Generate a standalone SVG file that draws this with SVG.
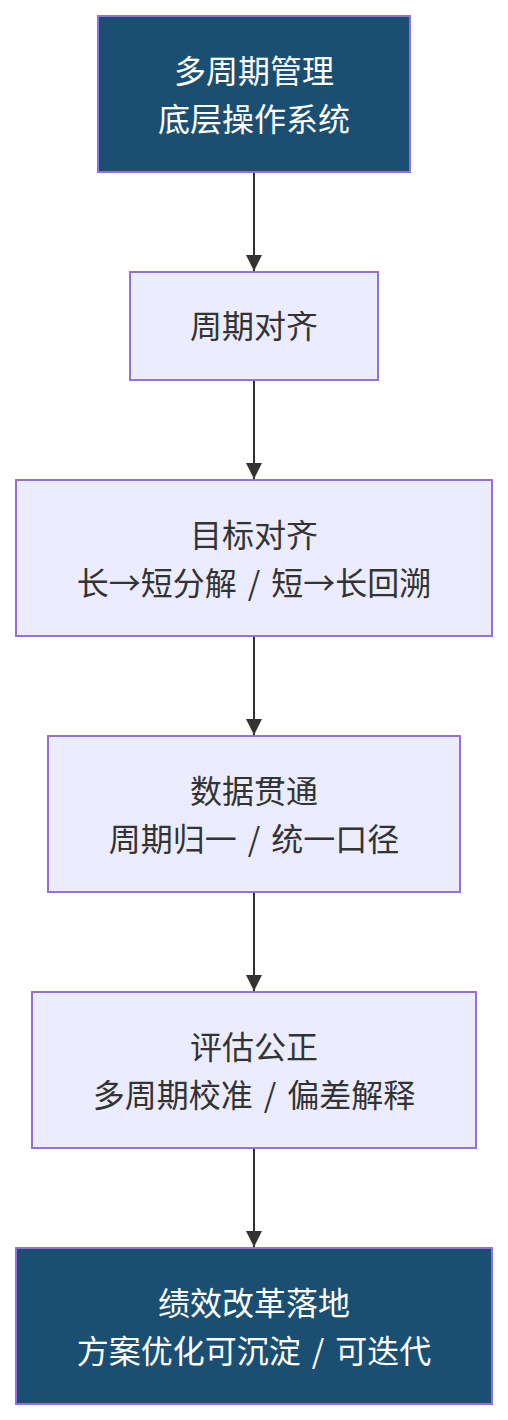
<svg xmlns="http://www.w3.org/2000/svg" width="508" height="1420" viewBox="0 0 508 1420">
<style>
.box{fill:#ececff;stroke:#9370db;stroke-width:2}
.dark{fill:#1b4f72;stroke:#9370db;stroke-width:2}
.t{font-family:"Noto Sans CJK SC","Noto Sans",sans-serif;font-size:32px;text-anchor:middle;fill:#333}
.tw{fill:#fff}
.edge{stroke:#333;stroke-width:2;fill:none}
</style>
<defs>
<marker id="arr" viewBox="0 0 16 16" refX="16" refY="8" markerWidth="16" markerHeight="16" markerUnits="userSpaceOnUse" orient="auto">
<path d="M0,0 L16,8 L0,16 z" fill="#333"/>
</marker>
</defs>
<rect width="508" height="1420" fill="#fff"/>
<g id="edges">
<line class="edge" x1="254" y1="172" x2="254" y2="271" marker-end="url(#arr)"/>
<line class="edge" x1="254" y1="380" x2="254" y2="479" marker-end="url(#arr)"/>
<line class="edge" x1="254" y1="636" x2="254" y2="735" marker-end="url(#arr)"/>
<line class="edge" x1="254" y1="892" x2="254" y2="991" marker-end="url(#arr)"/>
<line class="edge" x1="254" y1="1148" x2="254" y2="1247" marker-end="url(#arr)"/>
</g>
<g id="n1">
<rect class="dark" x="98" y="16" width="312" height="156"/>
<text class="t tw" x="254" y="83">多周期管理</text>
<text class="t tw" x="254" y="131">底层操作系统</text>
</g>
<g id="n2">
<rect class="box" x="130" y="272" width="248" height="108"/>
<text class="t" x="254" y="338">周期对齐</text>
</g>
<g id="n3">
<rect class="box" x="16" y="480" width="476" height="156"/>
<text class="t" x="254" y="547">目标对齐</text>
<text class="t" x="254" y="595">长→短分解<tspan dx="11">/</tspan><tspan dx="11">短→长回溯</tspan></text>
</g>
<g id="n4">
<rect class="box" x="48" y="736" width="412" height="156"/>
<text class="t" x="254" y="803">数据贯通</text>
<text class="t" x="254" y="851">周期归一<tspan dx="11">/</tspan><tspan dx="11">统一口径</tspan></text>
</g>
<g id="n5">
<rect class="box" x="32" y="992" width="444" height="156"/>
<text class="t" x="254" y="1059">评估公正</text>
<text class="t" x="254" y="1107">多周期校准<tspan dx="11">/</tspan><tspan dx="11">偏差解释</tspan></text>
</g>
<g id="n6">
<rect class="dark" x="16" y="1248" width="476" height="156"/>
<text class="t tw" x="254" y="1315">绩效改革落地</text>
<text class="t tw" x="254" y="1363">方案优化可沉淀<tspan dx="11">/</tspan><tspan dx="11">可迭代</tspan></text>
</g>
</svg>
